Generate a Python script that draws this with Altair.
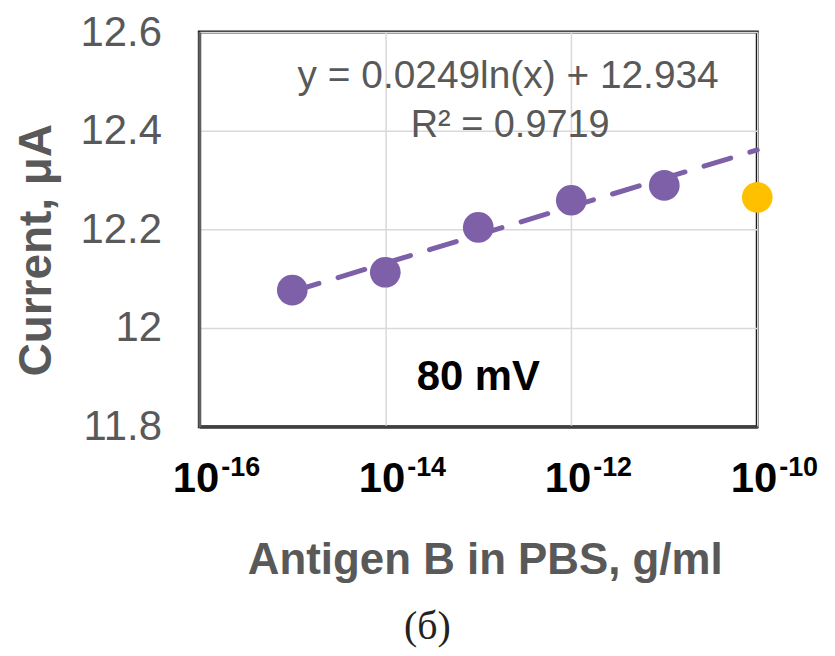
import altair as alt
import pandas as pd

# data
conc = [1e-15, 1e-14, 1e-13, 1e-12, 1e-11]
current = [12.077, 12.113, 12.204, 12.259, 12.289]
extra_conc = [1e-10]
extra_current = [12.265]
trend_x = [1e-15, 1e-10]
trend_y = [12.074, 12.361]
x_ticks = [1e-16, 1e-14, 1e-12, 1e-10]
x_tick_base = ["10", "10", "10", "10"]
x_tick_exp = ["-16", "-14", "-12", "-10"]
y_ticks = [11.8, 12.0, 12.2, 12.4, 12.6]

purple = "#7E60A8"
gold = "#FFC000"
gray = "#595959"

W, H = 560, 396

pts = pd.DataFrame({"x": conc, "y": current})
extra = pd.DataFrame({"x": extra_conc, "y": extra_current})
trend = pd.DataFrame({"x": trend_x, "y": trend_y})
ticklab = pd.DataFrame({"x": x_ticks, "base": x_tick_base, "exp": x_tick_exp})

xscale = alt.Scale(type="log", domain=[1e-16, 1e-10], nice=False)
yscale = alt.Scale(domain=[11.8, 12.6], nice=False, zero=False)

xaxis = alt.Axis(values=x_ticks, labels=False, title=None, grid=True,
                 gridColor="#d9d9d9", gridWidth=1.5, ticks=False, domain=True,
                 domainColor="#404040", domainWidth=3)
yaxis = alt.Axis(values=y_ticks, labelExpr="datum.value == 12 ? '12' : format(datum.value, '.1f')",
                 title=None, grid=True, gridColor="#d9d9d9", gridWidth=1.5, ticks=False,
                 domain=True, domainColor="#606060", domainWidth=3,
                 labelFont="Liberation Sans", labelFontSize=42,
                 labelColor=gray, labelPadding=38, labelFlush=False)

line = alt.Chart(trend).mark_line(color=purple, strokeWidth=5, strokeDash=[28, 20],
                                  strokeCap="round").encode(
    x=alt.X("x:Q", scale=xscale, axis=xaxis), y=alt.Y("y:Q", scale=yscale, axis=yaxis))
points = alt.Chart(pts).mark_point(filled=True, opacity=1, size=950, color=purple).encode(
    x=alt.X("x:Q", scale=xscale), y=alt.Y("y:Q", scale=yscale))
points2 = alt.Chart(extra).mark_point(filled=True, opacity=1, size=950, color=gold).encode(
    x=alt.X("x:Q", scale=xscale), y=alt.Y("y:Q", scale=yscale))

tick_base = alt.Chart(ticklab).mark_text(
    font="Liberation Sans", fontSize=42, fontWeight="bold", color="#000000",
    align="right", baseline="alphabetic", dx=20).encode(
    x=alt.X("x:Q", scale=xscale), y=alt.value(H + 66), text="base:N")
tick_exp = alt.Chart(ticklab).mark_text(
    font="Liberation Sans", fontSize=27, fontWeight="bold", color="#000000",
    align="left", baseline="alphabetic", dx=22).encode(
    x=alt.X("x:Q", scale=xscale), y=alt.value(H + 50), text="exp:N")

def label(text, x, y, size, weight="normal", color=gray, font="Liberation Sans",
          angle=0, baseline="middle"):
    return alt.Chart(pd.DataFrame({"t": [text]})).mark_text(
        font=font, fontSize=size, fontWeight=weight, color=color, angle=angle,
        align="center", baseline=baseline).encode(
        text="t:N", x=alt.value(x), y=alt.value(y))

texts = [
    label("y = 0.0249ln(x) + 12.934", 310, 44, 39),
    label("R² = 0.9719", 312, 94, 38),
    label("80 mV", 280, 346, 42, "bold", "#000000"),
    label("Antigen B in PBS, g/ml", 287, 544, 44, "bold", baseline="alphabetic"),
    label("(б)", 229, 597, 40, "normal", "#222222", "Liberation Serif"),
    label("Current, μA", -163, 219, 46, "bold", gray, angle=270),
]

chart = alt.layer(line, points, points2, tick_base, tick_exp, *texts).properties(
    width=W, height=H,
    autosize=alt.AutoSizeParams(type="none"),
    padding={"left": 192, "top": 23, "right": 70, "bottom": 221},
).configure(background="white").configure_view(stroke="#1a1a1a", strokeWidth=3)

chart.save("out.html", embed_options={"renderer": "svg", "actions": False})
